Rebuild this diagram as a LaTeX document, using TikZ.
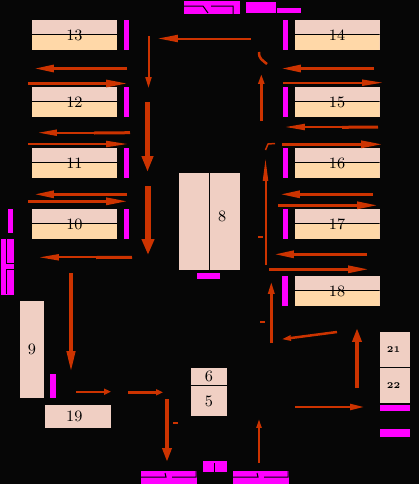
\documentclass[tikz,border=0pt]{standalone}
\usepackage{tikz}
\usetikzlibrary{arrows.meta, positioning}

\definecolor{bgblack}{HTML}{060606}
\definecolor{palepink}{HTML}{F0CFC3}
\definecolor{paleorange}{HTML}{FFD8A8}
\definecolor{flowred}{HTML}{CC3300}
\definecolor{barpink}{HTML}{FF00FF}
\newdimen\px
\px=0.02cm

\begin{document}
\begin{tikzpicture}[
    x=0.02cm, y=-0.02cm,
    paleblock/.style={rectangle, fill=palepink, inner sep=0pt, outer sep=0pt, text=black, font=\fontsize{9}{9}\selectfont},
    halfblock/.style={paleblock, minimum width=85\px, minimum height=30\px, path picture={
        \fill[paleorange] (path picture bounding box.south west) rectangle ([yshift=1\px]path picture bounding box.east);
        \draw[black, line width=1\px] ([yshift=1\px]path picture bounding box.west) -- ([yshift=1\px]path picture bounding box.east);}},
    smallblock/.style={paleblock, minimum width=30\px, font=\fontsize{5}{5}\selectfont\bfseries},
    magbar/.style={rectangle, fill=barpink, inner sep=0pt, outer sep=0pt, minimum width=5\px, minimum height=30\px},
    magblock/.style={rectangle, fill=barpink, inner sep=0pt, outer sep=0pt},
    blackline/.style={black, line width=1\px},
    flow/.style n args={3}{flowred, line width=#1\px,
        /utils/exec={\pgfmathsetmacro\tiplen{#2*0.5669}\pgfmathsetmacro\tipwid{#3*0.5669}},
        -{Triangle[length=\tiplen pt, width=\tipwid pt]}},
    flowbar/.style={flowred, line width=#1\px}
]
    \useasboundingbox (0,0) rectangle (419,484);
    \fill[bgblack] (0,0) rectangle (419,484);

    % left column
    \node[halfblock] (b13) at (74.5,35) {13};
    \node[halfblock, below=37\px of b13] (b12) {12};
    \node[halfblock, below=31\px of b12] (b11) {11};
    \node[halfblock, below=31\px of b11] (b10) {10};
    \node[magbar, right=7\px of b13] (m13) {};
    \node[magbar, right=7\px of b12] (m12) {};
    \node[magbar, right=7\px of b11] (m11) {};
    \node[magbar, right=7\px of b10] (m10) {};

    % right column
    \node[halfblock] (b14) at (337,35) {14};
    \node[halfblock, below=37\px of b14] (b15) {15};
    \node[halfblock, below=31\px of b15] (b16) {16};
    \node[halfblock, below=31\px of b16] (b17) {17};
    \node[halfblock, below=37\px of b17] (b18) {18};
    \node[magbar, left=7\px of b14] (m14) {};
    \node[magbar, left=7\px of b15] (m15) {};
    \node[magbar, left=7\px of b16] (m16) {};
    \node[magbar, left=7\px of b17] (m17) {};
    \node[magbar, left=7\px of b18, minimum width=6\px] (m18) {};

    % middle and lower blocks
    \node[paleblock, minimum width=29.5\px, minimum height=97\px] (b8a) at (193.75,221.5) {};
    \node[paleblock, minimum width=30\px, minimum height=97\px, right=1\px of b8a] (b8) {\raisebox{6.5pt}{8}\kern2.5pt};
    \node[magblock, minimum width=23\px, minimum height=6\px] (m8) at (208.5,276) {};
    \node[paleblock, minimum width=24\px, minimum height=97\px] (b9) at (32,349.5) {9};
    \node[magblock, minimum width=6\px, minimum height=24\px] (m9) at (53,386) {};
    \node[paleblock, minimum width=66\px, minimum height=23\px] (b19) at (78,416.5) {19\kern4.2pt};
    \node[paleblock, minimum width=36\px, minimum height=17\px] (b6) at (209,376.5) {6};
    \node[paleblock, minimum width=36\px, minimum height=30\px, below=1\px of b6] (b5) {5};
    \node[smallblock, minimum height=34.5\px] (b21) at (395,349.25) {21\kern1.7pt};
    \node[smallblock, minimum height=35\px, below=1.5\px of b21] (b22) {22\kern1.7pt};
    \node[magblock, minimum width=30\px, minimum height=6\px] (m22) at (395,408) {};
    \node[magblock, minimum width=30\px, minimum height=8\px] (m23) at (395,433) {};

    % magenta blocks round the border
    \node[magblock, minimum width=5\px, minimum height=24\px] (mw) at (10.5,221) {};
    \node[magblock, minimum width=13\px, minimum height=56\px] (mw2) at (7.5,267) {};
    \draw[blackline] (mw2.north west)++(5.5,0) |- ++(7.5,24) ++(0,6) -| ++(-7.5,25);
    \node[magblock, minimum width=56\px, minimum height=13\px] (mn) at (212,7.5) {};
    \draw[blackline] (mn.west)++(0,-1.5) -- ++(19,0) -- ++(5,7) ++(3,-7) -- ++(22,0) -- ++(0,8);
    \node[magblock, minimum width=30\px, minimum height=11\px] (mn2) at (261,7.5) {};
    \node[magblock, minimum width=24\px, minimum height=5\px] (mn3) at (289,10.5) {};
    \node[magblock, minimum width=56\px, minimum height=13\px] (ms) at (169,477.5) {};
    \draw[blackline] (ms.north west)++(0,6) -- ++(25,0) -- ++(-1,-4) ++(7,4) -- ++(24,0) -- ++(0,-6);
    \node[magblock, minimum width=56\px, minimum height=13\px] (ms2) at (261,477.5) {};
    \draw[blackline] (ms2.north west)++(0,6) -- ++(25,0) -- ++(-1,-4) ++(7,4) -- ++(24,0) -- ++(0,-6);
    \node[magblock, minimum width=24\px, minimum height=11\px] (ms3) at (215,466.5) {};
    \draw[blackline] (ms3.north)++(-1,2) -- ++(0,9);

    % flows on the left
    \coordinate (t1) at (251,38.5); \coordinate (h1) at (158,38.5);
    \draw[flow={2}{20}{7}] (t1) -- (h1);
    \coordinate (t2) at (148.5,36); \coordinate (h2) at (148.5,88);
    \draw[flow={2}{11}{6}] (t2) -- (h2);
    \coordinate (t3) at (127,68.5); \coordinate (h3) at (34,68.5);
    \draw[flow={3}{20}{7}] (t3) -- (h3);
    \coordinate (t4) at (28,83.5); \coordinate (h4) at (128,83.5);
    \draw[flow={3}{22}{7}] (t4) -- (h4);
    \coordinate (t5) at (147.5,102); \coordinate (h5) at (147.5,172);
    \draw[flow={5}{16}{11}] (t5) -- (h5);
    \coordinate (t6) at (130,132.7); \coordinate (h6) at (38,132.7);
    \draw[flow={2}{19}{6}] (t6) -- (h6);
    \coordinate (s6) at (94,133); \draw[flowbar=3] (t6) -- (s6);
    \coordinate (t7) at (28,144); \coordinate (h7) at (128,144);
    \draw[flow={2}{22}{6}] (t7) -- (h7);
    \coordinate (t8) at (127,194.3); \coordinate (h8) at (34,194.3);
    \draw[flow={3}{20}{7}] (t8) -- (h8);
    \coordinate (t9) at (28,201.3); \coordinate (h9) at (128,201.3);
    \draw[flow={3}{22}{7}] (t9) -- (h9);
    \coordinate (t10) at (148,186); \coordinate (h10) at (148,255);
    \draw[flow={6}{16}{12}] (t10) -- (h10);
    \coordinate (t11) at (132,257.3); \coordinate (h11) at (39,257.3);
    \draw[flow={2}{20}{6}] (t11) -- (h11);
    \coordinate (s11) at (96,257.5); \draw[flowbar=3] (t11) -- (s11);
    \coordinate (t12) at (71,273); \coordinate (h12) at (71,373);
    \draw[flow={4}{22}{8}] (t12) -- (h12);
    \coordinate (t13) at (76,391.7); \coordinate (h13) at (111,391.7);
    \draw[flow={2}{7}{6}] (t13) -- (h13);
    \coordinate (t14) at (128,392.3); \coordinate (h14) at (163,392.3);
    \draw[flow={3}{7}{6}] (t14) -- (h14);
    \coordinate (t15) at (167,399); \coordinate (h15) at (167,462);
    \draw[flow={4}{14}{9}] (t15) -- (h15);
    \coordinate (t16) at (173,423); \coordinate (h16) at (178,423);
    \draw[flowbar=2] (t16) -- (h16);

    % flows on the right
    \coordinate (t17) at (261.3,121); \coordinate (h17) at (261.3,74);
    \draw[flow={3}{10}{6}] (t17) -- (h17);
    \coordinate (t18) at (259,52); \coordinate (h18) at (267,64);
    \draw[flowbar=2.5] (t18) .. controls (258.5,58) and (262,60) .. (h18);
    \coordinate (t19) at (374,68.5); \coordinate (h19) at (281,68.5);
    \draw[flow={3}{20}{7}] (t19) -- (h19);
    \coordinate (t20) at (283,82.7); \coordinate (h20) at (383,82.7);
    \draw[flow={2}{21}{6}] (t20) -- (h20);
    \coordinate (t21) at (378,127); \coordinate (h21) at (285,127);
    \draw[flow={2}{20}{6}] (t21) -- (h21);
    \coordinate (s21) at (342,127.3); \draw[flowbar=3] (t21) -- (s21);
    \coordinate (t22) at (282,144.3); \coordinate (h22) at (383,144.3);
    \draw[flow={3}{22}{7}] (t22) -- (h22);
    \coordinate (t23) at (275,143.5); \coordinate (h23) at (265.5,150);
    \draw[flowbar=1.5] (t23) -- (268,144) -- (h23);
    \coordinate (t24) at (265.5,265); \coordinate (h24) at (265.5,158);
    \draw[flow={2}{23}{5}] (t24) -- (h24);
    \coordinate (t25) at (258,237); \coordinate (h25) at (263,237);
    \draw[flowbar=2] (t25) -- (h25);
    \coordinate (t26) at (373,194.3); \coordinate (h26) at (280,194.3);
    \draw[flow={3}{20}{7}] (t26) -- (h26);
    \coordinate (t27) at (278,205.3); \coordinate (h27) at (378,205.3);
    \draw[flow={3}{21}{7}] (t27) -- (h27);
    \coordinate (t28) at (367,254.3); \coordinate (h28) at (274,254.3);
    \draw[flow={3}{20}{7}] (t28) -- (h28);
    \coordinate (t29) at (269,269.3); \coordinate (h29) at (369,269.3);
    \draw[flow={3}{21}{7}] (t29) -- (h29);
    \coordinate (t30) at (271.3,343); \coordinate (h30) at (271.3,281);
    \draw[flow={3}{13}{6}] (t30) -- (h30);
    \coordinate (t31) at (260,322); \coordinate (h31) at (265,322);
    \draw[flowbar=2] (t31) -- (h31);
    \coordinate (t32) at (337,332); \coordinate (h32) at (281,339.3);
    \draw[flow={2.5}{10}{5}] (t32) -- (h32);
    \coordinate (t33) at (357,388); \coordinate (h33) at (357,328);
    \draw[flow={4}{14}{9}] (t33) -- (h33);
    \coordinate (t34) at (295,407); \coordinate (h34) at (364,407);
    \draw[flow={2}{14}{6}] (t34) -- (h34);
    \coordinate (t35) at (259,463); \coordinate (h35) at (259,419);
    \draw[flow={2}{9}{5}] (t35) -- (h35);
\end{tikzpicture}
\end{document}
